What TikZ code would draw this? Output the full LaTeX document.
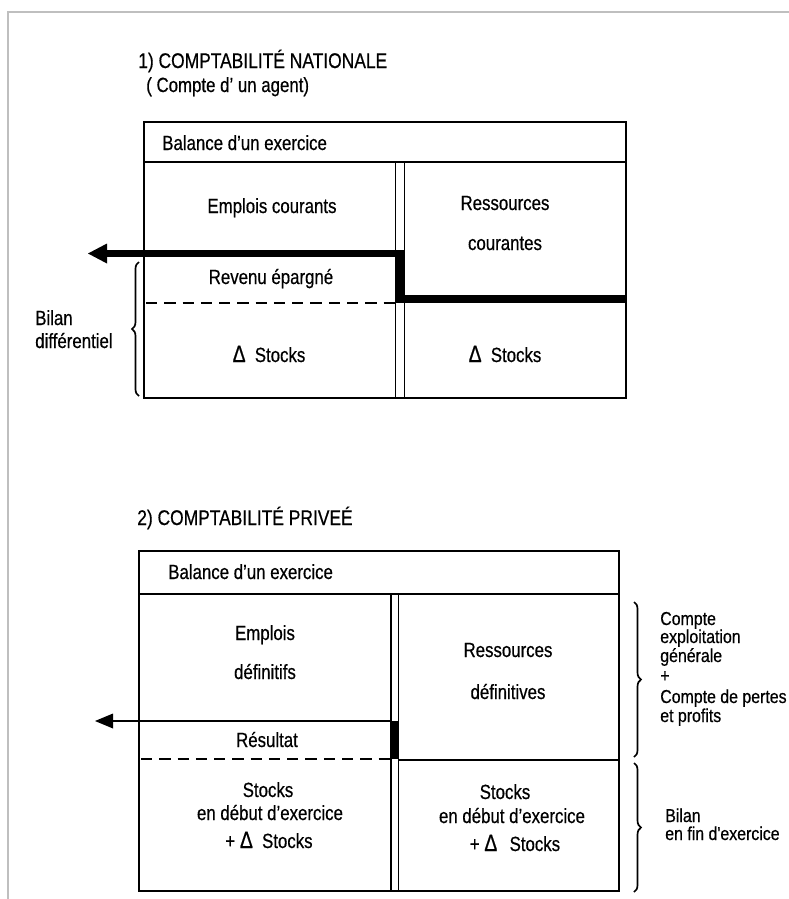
\documentclass[tikz,border=0pt]{standalone}
\usepackage{fontspec}
\setmainfont{Liberation Sans}[FakeStretch=0.82, FakeBold=0.5]
\newfontfamily\etroit{Liberation Sans}[FakeStretch=0.85, FakeBold=0.5]
\usetikzlibrary{decorations.pathreplacing}

\newcommand{\delt}{\scalebox{1.15}{Δ}}

\begin{document}
\begin{tikzpicture}[scale=0.25]
\tikzstyle{every node}+=[inner sep=0pt, font=\fontsize{14.6}{16}\selectfont]
\tikzstyle{titre}=[anchor=base west, font=\fontsize{15.1}{16}\selectfont]
\tikzstyle{marge}=[anchor=base west, font=\etroit\fontsize{13.3}{15}\selectfont]
\tikzstyle{cadre}=[black, line width=1.3pt]
\tikzstyle{filet}=[black, line width=0.9pt]
\tikzstyle{tirets}=[black, line width=0.9pt, dash pattern=on 8pt off 5pt]
\tikzstyle{accolade}=[black, line width=1.2pt, decorate, decoration={brace, amplitude=5pt}]
\useasboundingbox (0,0) rectangle (78.9,-89.9);
% bord de page
\draw [black!25, line width=1.4pt] (78.9,-1.2) -- (0.8,-1.2) -- (0.8,-89.9);

% 1) comptabilite nationale
\node (titreA) [titre] at (13.8,-6.8) {1) COMPTABILITÉ NATIONALE};
\node (sousA) [anchor=base west] at (14.6,-9.2) {( Compte d' un agent)};
\draw [cadre] (14.4,-12.2) rectangle (62.6,-39.8);
\draw [cadre] (14.4,-16.2) -- (62.6,-16.2);
\draw [filet] (39.55,-16.2) -- (39.55,-39.8);
\draw [filet] (40.45,-16.2) -- (40.45,-39.8);
\draw [tirets] (14.6,-30.3) -- (39.55,-30.3);
\node (balA) [anchor=base west] at (16.2,-15.0) {Balance d'un exercice};
\node (emplA) [anchor=base] at (27.2,-21.3) {Emplois courants};
\node (ressA) [anchor=base] at (50.5,-21.0) {Ressources};
\node (ressAb) [anchor=base] at (50.5,-25.0) {courantes};
\node (revA) [anchor=base] at (27.1,-28.4) {Revenu épargné};
\node (stockA) [anchor=base] at (26.9,-36.2) {\delt\hspace{0.45em}Stocks};
\node (stockAb) [anchor=base] at (50.5,-36.2) {\delt\hspace{0.45em}Stocks};
\node (bilanA) [anchor=base west] at (3.5,-32.5) {Bilan};
\node (bilanAb) [anchor=base west] at (3.5,-34.8) {différentiel};
\draw [accolade] (13.9,-39.6) -- (13.9,-26.2);
% revenu epargne
\coordinate (bordA) at (62.6,-29.9);
\coordinate (coinB) at (40,-29.9);
\coordinate (coinA) at (40,-25.35);
\coordinate (baseA) at (10.5,-25.35);
\coordinate (pointeA) at (8.8,-25.35);
\draw [black, line width=5pt] (bordA) -- (coinB) -- (coinA) -- (baseA);
\fill [black] (pointeA) -- ++(1.9,1.0) -- ++(0,-2.0) -- cycle;

% 2) comptabilite privee
\node (titreB) [titre] at (13.7,-52.5) {2) COMPTABILITÉ PRIVEÉ};
\draw [cadre] (13.9,-55.1) rectangle (61.9,-89.1);
\draw [cadre] (13.9,-59.4) -- (61.9,-59.4);
\draw [filet] (39.1,-59.4) -- (39.1,-89.1);
\draw [filet] (39.85,-59.4) -- (39.85,-89.1);
\draw [filet] (39.85,-76.0) -- (61.9,-76.0);
\draw [tirets] (14.1,-75.9) -- (39.1,-75.9);
\fill [black] (39.1,-72.1) rectangle (39.85,-75.9);
\node (balB) [anchor=base west] at (16.8,-57.9) {Balance d'un exercice};
\node (emplB) [anchor=base] at (26.5,-64.0) {Emplois};
\node (emplBb) [anchor=base] at (26.5,-67.9) {définitifs};
\node (ressB) [anchor=base] at (50.8,-65.7) {Ressources};
\node (ressBb) [anchor=base] at (50.8,-69.9) {définitives};
\node (resB) [anchor=base] at (26.7,-74.7) {Résultat};
\node (stockB) [anchor=base] at (26.8,-79.7) {Stocks};
\node (debutB) [anchor=base] at (27.0,-82.0) {en début d'exercice};
\node (deltaB) [anchor=base] at (26.9,-84.8) {+ \delt\hspace{0.45em}Stocks};
\node (stockBb) [anchor=base] at (50.5,-79.9) {Stocks};
\node (debutBb) [anchor=base] at (51.2,-82.3) {en début d'exercice};
\node (deltaBb) [anchor=base] at (51.5,-85.1) {+ \delt\hspace{0.6em}Stocks};
\node (expl1) [marge] at (66.0,-62.5) {Compte};
\node (expl2) [marge] at (66.0,-64.3) {exploitation};
\node (expl3) [marge] at (66.0,-66.2) {générale};
\node (expl4) [marge] at (66.0,-68.2) {+};
\node (expl5) [marge] at (66.0,-70.3) {Compte de pertes};
\node (expl6) [marge] at (66.0,-72.2) {et profits};
\node (bilanB) [marge] at (66.5,-82.2) {Bilan};
\node (bilanBb) [marge] at (66.5,-84.0) {en fin d'exercice};
\draw [accolade] (63.4,-60.2) -- (63.4,-75.7);
\draw [accolade] (63.4,-76.3) -- (63.4,-89.2);
% resultat
\coordinate (coinC) at (39.1,-72.1);
\coordinate (baseC) at (11.2,-72.1);
\coordinate (pointeC) at (9.5,-72.1);
\draw [black, line width=1.1pt] (coinC) -- (baseC);
\fill [black] (pointeC) -- ++(1.8,0.75) -- ++(0,-1.5) -- cycle;
\end{tikzpicture}
\end{document}
